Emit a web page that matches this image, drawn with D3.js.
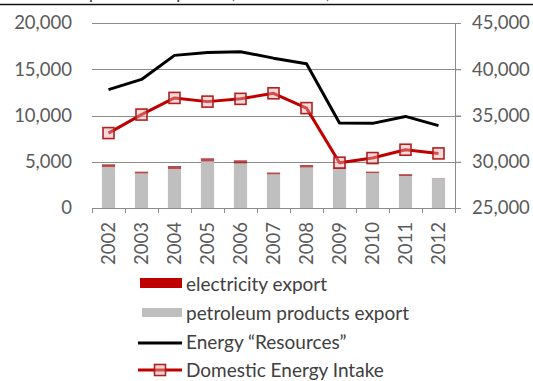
<!DOCTYPE html>
<html>
<head>
<meta charset="utf-8">
<script src="https://cdn.jsdelivr.net/npm/d3@7"></script>
<style>
  html, body { margin: 0; padding: 0; background: #fff; }
  svg { display: block; font-family: Lato, "Open Sans", sans-serif; }
</style>
</head>
<body>
<svg id="chart" width="533" height="381"></svg>
<script>
// Years on the category axis
const years = ["2002","2003","2004","2005","2006","2007","2008","2009","2010","2011","2012"];
// Exports (left axis, stacked bars)
const petroleumExport = [4430, 3730, 4220, 5030, 4810, 3640, 4380, 4300, 3780, 3460, 3200];
const electricityExport = [300, 200, 320, 350, 350, 200, 270, 100, 150, 200, 30];
// Lines (right axis)
const energyResources = [37800, 38900, 41500, 41800, 41900, 41200, 40600, 34200, 34150, 34900, 33900];
const domesticIntake = [33100, 35100, 36900, 36500, 36800, 37400, 35800, 29900, 30400, 31300, 30900];
// Axis ticks
const leftTicks = [0, 5000, 10000, 15000, 20000];
const rightTicks = [25000, 30000, 35000, 40000, 45000];
// Row of the table printed above the chart
const tableRow = ["Petroleum products export", "4,716", "4,607", "+2.4%", "333"];

const svg = d3.select("#chart");
const fmt = d3.format(",");
const textColor = "#5a5a5a";
const gridColor = "#8c8c8c";
const red = "#c00000";
const axisFont = 18.5, legendFont = 19;

const plotLeft = 92, plotRight = 455, plotTop = 23, plotBottom = 208;

const x = d3.scaleBand().domain(years).range([plotLeft, plotRight]).paddingInner(0.6).paddingOuter(0.3);
const yL = d3.scaleLinear().domain([0, 20000]).range([plotBottom, plotTop]);
const yR = d3.scaleLinear().domain([25000, 45000]).range([plotBottom, plotTop]);
const cx = d => x(d) + x.bandwidth() / 2;

// Table row fragment and rule at the top edge
const colX = [8, 222, 316, 378, 482];
svg.append("g").selectAll("text").data(tableRow).join("text")
  .attr("x", (d, i) => colX[i]).attr("y", -1)
  .attr("font-size", 17).attr("fill", "#333").text(d => d);
svg.append("line").attr("x1", 0).attr("x2", 533).attr("y1", 4.5).attr("y2", 4.5)
  .attr("stroke", "#111").attr("stroke-width", 1.5);

// Gridlines
svg.append("g").selectAll("line").data(leftTicks.filter(d => d > 0)).join("line")
  .attr("x1", plotLeft).attr("x2", plotRight + 6)
  .attr("y1", d => Math.round(yL(d)) + 0.5).attr("y2", d => Math.round(yL(d)) + 0.5)
  .attr("stroke", gridColor).attr("stroke-width", 1);

// Left axis labels
const gL = svg.append("g").attr("transform", `translate(${plotLeft},0)`)
  .call(d3.axisLeft(yL).tickValues(leftTicks).tickFormat(fmt).tickSize(0).tickPadding(20));
gL.select(".domain").remove();
gL.selectAll("text").attr("font-size", axisFont).attr("fill", textColor).attr("font-family", "Lato, sans-serif");

// Right axis
const gR = svg.append("g").attr("transform", `translate(${plotRight},0)`)
  .call(d3.axisRight(yR).tickValues(rightTicks).tickFormat(fmt).tickSize(6).tickPadding(11));
gR.select(".domain").attr("stroke", gridColor).attr("d", `M0.5,${plotTop}V${plotBottom}`);
gR.selectAll(".tick line").attr("stroke", gridColor);
gR.selectAll("text").attr("font-size", axisFont).attr("fill", textColor).attr("font-family", "Lato, sans-serif");

// Stacked bars
const bars = svg.append("g");
bars.selectAll("rect.pet").data(years).join("rect").attr("class", "pet")
  .attr("x", d => x(d)).attr("width", x.bandwidth())
  .attr("y", (d, i) => yL(petroleumExport[i]))
  .attr("height", (d, i) => yL(0) - yL(petroleumExport[i]))
  .attr("fill", "#bfbfbf");
bars.selectAll("rect.ele").data(years).join("rect").attr("class", "ele")
  .attr("x", d => x(d)).attr("width", x.bandwidth())
  .attr("y", (d, i) => yL(petroleumExport[i] + electricityExport[i]))
  .attr("height", (d, i) => yL(petroleumExport[i]) - yL(petroleumExport[i] + electricityExport[i]))
  .attr("fill", "#a01010").attr("opacity", 0.75);

// Category axis with ticks between categories
svg.append("line").attr("x1", plotLeft).attr("x2", plotRight + 1)
  .attr("y1", plotBottom + 0.5).attr("y2", plotBottom + 0.5).attr("stroke", gridColor);
const step = x.step();
svg.append("g").selectAll("line").data(d3.range(years.length + 1)).join("line")
  .attr("x1", i => plotLeft + 0.5 + i * step).attr("x2", i => plotLeft + 0.5 + i * step)
  .attr("y1", plotBottom).attr("y2", plotBottom + 5).attr("stroke", gridColor);
svg.append("g").selectAll("text").data(years).join("text")
  .attr("transform", d => `translate(${cx(d) + 6.5},${plotBottom + 14}) rotate(-90)`)
  .attr("text-anchor", "end").attr("font-size", axisFont).attr("fill", textColor).text(d => d);

// Lines
const line = d3.line().x(d => cx(d[0])).y(d => yR(d[1]));
svg.append("path").datum(years.map((d, i) => [d, energyResources[i]]))
  .attr("d", line).attr("fill", "none").attr("stroke", "#000").attr("stroke-width", 3)
  .attr("stroke-linejoin", "round");
svg.append("path").datum(years.map((d, i) => [d, domesticIntake[i]]))
  .attr("d", line).attr("fill", "none").attr("stroke", red).attr("stroke-width", 3)
  .attr("stroke-linejoin", "round");
svg.append("g").selectAll("rect").data(years).join("rect")
  .attr("x", d => cx(d) - 5.5).attr("y", (d, i) => yR(domesticIntake[i]) - 5.5)
  .attr("width", 11).attr("height", 11)
  .attr("fill", "rgba(240,170,170,0.45)").attr("stroke", "#b02020").attr("stroke-width", 1.6);

// Legend
const lg = svg.append("g");
const lx = 186;
lg.append("rect").attr("x", 140).attr("y", 278).attr("width", 42).attr("height", 10).attr("fill", red);
lg.append("rect").attr("x", 142).attr("y", 308).attr("width", 40).attr("height", 9).attr("fill", "#bfbfbf");
lg.append("line").attr("x1", 138).attr("x2", 182).attr("y1", 343).attr("y2", 343)
  .attr("stroke", "#000").attr("stroke-width", 3);
lg.append("line").attr("x1", 138).attr("x2", 182).attr("y1", 370).attr("y2", 370)
  .attr("stroke", red).attr("stroke-width", 3);
lg.append("rect").attr("x", 154.5).attr("y", 364.5).attr("width", 11).attr("height", 11)
  .attr("fill", "rgba(240,170,170,0.45)").attr("stroke", "#b02020").attr("stroke-width", 1.6);
const legendLabels = ["electricity export", "petroleum products export", "Energy \u201cResources\u201d", "Domestic Energy Intake"];
const legendY = [284, 313, 342, 370];
lg.selectAll("text").data(legendLabels).join("text")
  .attr("x", lx).attr("y", (d, i) => legendY[i]).attr("dy", "0.35em")
  .attr("font-size", legendFont).attr("fill", "#404040").text(d => d);
</script>
</body>
</html>
